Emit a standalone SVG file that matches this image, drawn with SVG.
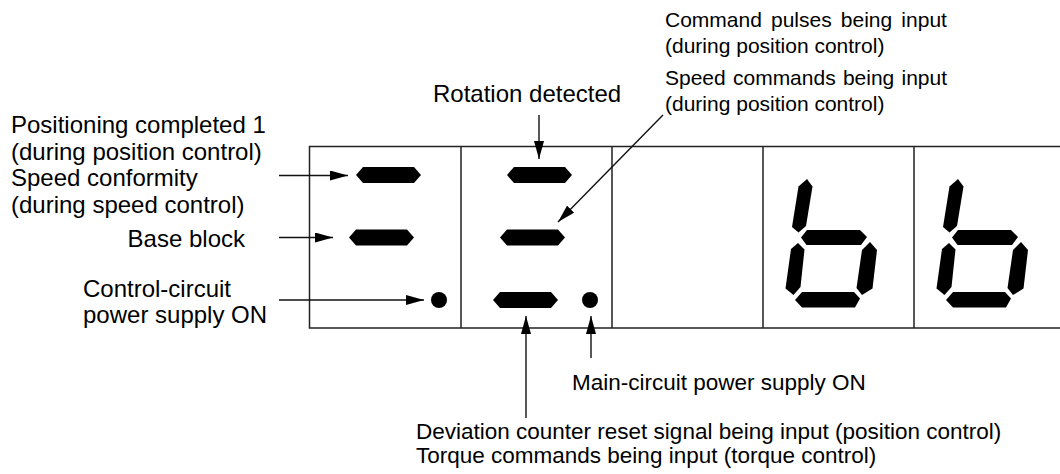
<svg xmlns="http://www.w3.org/2000/svg" xmlns:xlink="http://www.w3.org/1999/xlink" width="1060" height="474" viewBox="0 0 1060 474">
<style>
.t{font-family:"Liberation Sans",Arial,sans-serif;font-size:24px;fill:#000}
.tb{font-family:"Liberation Sans",Arial,sans-serif;font-size:22.5px;fill:#000}
.tr{font-family:"Liberation Sans",Arial,sans-serif;font-size:21px;fill:#000}
.frame{stroke:#222;stroke-width:1.5;fill:none}
.conn{stroke:#111;stroke-width:1.4;fill:none;marker-end:url(#ah)}
.seg{fill:#000}
</style>
<defs>
<marker id="ah" markerUnits="userSpaceOnUse" markerWidth="18" markerHeight="10" refX="18" refY="5" orient="auto" viewBox="0 0 18 10">
<path d="M0,0 L18,5 L0,10 z" fill="#000"/>
</marker>
<polygon id="hseg" class="seg" points="0,8 7,0 58,0 65,8 58,16 7,16"/>
<g id="digit-b" class="seg">
<polygon points="807,179 812.5,186.5 806,226 798.5,232.5 792,227 798.5,186.5"/>
<polygon points="801,237.5 807,230 860,230 867,237 861,245 806.5,245"/>
<polygon points="798,243 804.5,249.5 800.5,287 793.5,295 785.5,288.5 791,249"/>
<polygon points="870,242 877,250 872.5,288.5 862,295 856.5,288 862,250"/>
<polygon points="795,300 802,292 854,292 860,298.5 855,307.5 802,307.5"/>
</g>
</defs>
<rect width="1060" height="474" fill="#fff"/>
<g id="display-frame" class="frame">
<path d="M1060,146.5 H309.5 V328 H1060"/>
<path d="M461,146.5 V328 M612,146.5 V328 M763,146.5 V328 M914,146.5 V328"/>
</g>
<g id="digit1">
<use xlink:href="#hseg" href="#hseg" x="356" y="167"/>
<use xlink:href="#hseg" href="#hseg" x="349" y="229.5"/>
<circle class="seg" cx="439" cy="300" r="8"/>
</g>
<g id="digit2">
<use xlink:href="#hseg" href="#hseg" x="507" y="167"/>
<use xlink:href="#hseg" href="#hseg" x="500" y="229.5"/>
<use xlink:href="#hseg" href="#hseg" x="493" y="292"/>
<circle class="seg" cx="590" cy="300" r="8"/>
</g>
<g id="digit4"><use xlink:href="#digit-b" href="#digit-b"/></g>
<g id="digit5"><use xlink:href="#digit-b" href="#digit-b" x="151"/></g>
<g id="connectors">
<line class="conn" x1="279" y1="175.5" x2="348" y2="175.5"/>
<line class="conn" x1="279" y1="237.5" x2="333" y2="237.5"/>
<line class="conn" x1="279" y1="300" x2="424" y2="300"/>
<line class="conn" x1="539" y1="115" x2="539" y2="159"/>
<line class="conn" x1="663" y1="115" x2="558" y2="222"/>
<line class="conn" x1="526" y1="418" x2="526" y2="316"/>
<line class="conn" x1="591" y1="358" x2="591" y2="316"/>
</g>
<g id="label-positioning">
<text class="t" x="11" y="133">Positioning completed 1</text>
<text class="t" x="11" y="160">(during position control)</text>
<text class="t" x="11" y="186">Speed conformity</text>
<text class="t" x="11" y="213">(during speed control)</text>
</g>
<g id="label-baseblock"><text class="t" x="245" y="247" text-anchor="end">Base block</text></g>
<g id="label-control">
<text class="t" x="83" y="297">Control-circuit</text>
<text class="t" x="83" y="323">power supply ON</text>
</g>
<g id="label-rotation"><text class="t" x="433" y="102">Rotation detected</text></g>
<g id="label-command">
<text class="tr" x="665" y="27" word-spacing="3.3">Command pulses being input</text>
<text class="tr" x="665" y="53">(during position control)</text>
<text class="tr" x="665" y="85" word-spacing="1.4">Speed commands being input</text>
<text class="tr" x="665" y="111">(during position control)</text>
</g>
<g id="label-main"><text class="tb" x="572" y="390">Main-circuit power supply ON</text></g>
<g id="label-deviation">
<text class="tb" x="416" y="439">Deviation counter reset signal being input (position control)</text>
<text class="tb" x="416" y="463">Torque commands being input (torque control)</text>
</g>
</svg>
